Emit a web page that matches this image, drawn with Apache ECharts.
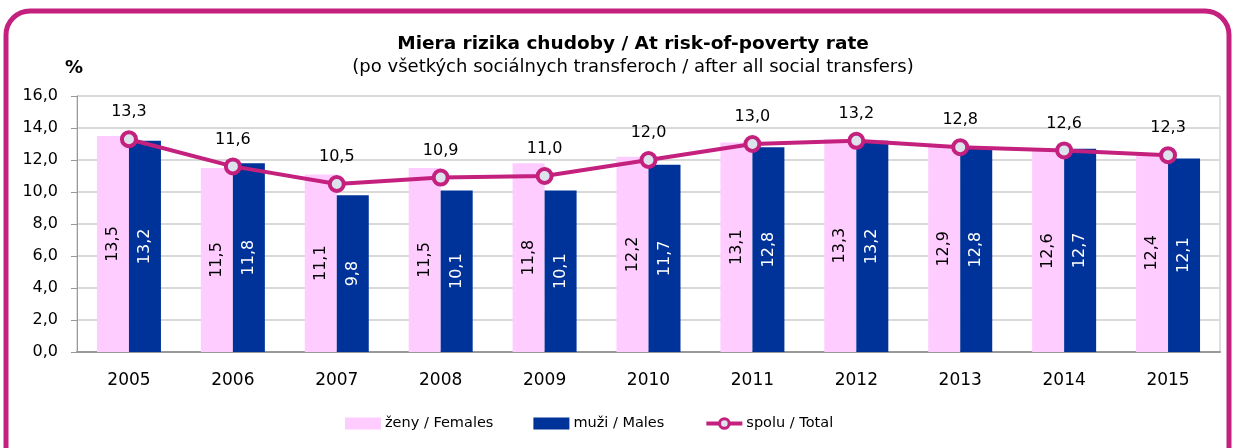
<!DOCTYPE html>
<html>
<head>
<meta charset="utf-8">
<script src="https://cdn.jsdelivr.net/npm/echarts@6/dist/echarts.min.js"></script>
<style>
  html, body { margin: 0; padding: 0; background: #fff; }
  #chart { width: 1233px; height: 448px; }
</style>
</head>
<body>
<div id="chart"></div>
<script>
// data
var years = ['2005', '2006', '2007', '2008', '2009', '2010', '2011', '2012', '2013', '2014', '2015'];
var females = [13.5, 11.5, 11.1, 11.5, 11.8, 12.2, 13.1, 13.3, 12.9, 12.6, 12.4];
var males = [13.2, 11.8, 9.8, 10.1, 10.1, 11.7, 12.8, 13.2, 12.8, 12.7, 12.1];
var total = [13.3, 11.6, 10.5, 10.9, 11.0, 12.0, 13.0, 13.2, 12.8, 12.6, 12.3];

var font = 'DejaVu Sans, sans-serif';
function comma(v) { return v.toFixed(1).replace('.', ','); }

(function() {
	var myChart = echarts.init(document.querySelector('#chart'));
	var option = {
		backgroundColor: '#fff',
		textStyle: { fontFamily: font },
		title: {
			text: 'Miera rizika chudoby / At risk-of-poverty rate',
			subtext: '(po všetkých sociálnych transferoch / after all social transfers)',
			left: 628, textAlign: 'center', top: 30, itemGap: 4,
			textStyle: { fontFamily: font, fontSize: 18.5, fontWeight: 'bold', color: '#000' },
			subtextStyle: { fontFamily: font, fontSize: 18, color: '#000' }
		},
		graphic: [
			{
				type: 'rect',
				shape: { x: 6, y: 11, width: 1223, height: 460, r: 24 },
				style: { fill: 'none', stroke: '#C4207E', lineWidth: 5 }
			},
			{
				type: 'text', left: 65, top: 59,
				style: { text: '%', font: 'bold 18px ' + font, fill: '#000' }
			},
			{
				type: 'rect',
				shape: { x: 77, y: 96, width: 1143, height: 256 },
				style: { fill: 'none', stroke: '#bfbfbf', lineWidth: 1 },
				z: 0
			}
		],
		legend: {
			bottom: 12, left: 340, itemGap: 40, itemWidth: 36, itemHeight: 12,
			textStyle: { fontFamily: font, fontSize: 14.5, color: '#000', padding: [0, 0, 0, -1] },
			data: [
				{ name: 'ženy / Females', icon: 'rect' },
				{ name: 'muži / Males', icon: 'rect' },
				{ name: 'spolu / Total', lineStyle: { width: 4 }, itemStyle: { borderWidth: 3 } }
			]
		},
		grid: { left: 77, right: 13, top: 96, bottom: 96 },
		xAxis: {
			type: 'category',
			data: years,
			axisTick: { show: false },
			axisLine: { lineStyle: { color: '#999', width: 2 } },
			axisLabel: { fontSize: 17, color: '#000', margin: 20, fontFamily: font }
		},
		yAxis: {
			type: 'value', min: 0, max: 16, interval: 2,
			axisLine: { show: true, lineStyle: { color: '#999' } },
			axisTick: { show: true, length: 6, lineStyle: { color: '#999' } },
			splitLine: { lineStyle: { color: '#d9d9d9', width: 2 } },
			axisLabel: { fontSize: 16, color: '#000', margin: 19, fontFamily: font, formatter: comma }
		},
		series: [
			{
				name: 'ženy / Females', type: 'bar', data: females,
				barWidth: 32, barGap: '0%',
				itemStyle: { color: '#FFCCFF' },
				label: {
					show: true, position: 'inside', rotate: 90, fontSize: 16, color: '#000',
					fontFamily: font, formatter: function(p) { return comma(p.value); }
				}
			},
			{
				name: 'muži / Males', type: 'bar', data: males,
				barWidth: 32,
				itemStyle: { color: '#003399' },
				label: {
					show: true, position: 'inside', rotate: 90, fontSize: 16, color: '#fff',
					fontFamily: font, formatter: function(p) { return comma(p.value); }
				}
			},
			{
				name: 'spolu / Total', type: 'line', data: total,
				symbol: 'circle', symbolSize: 14,
				lineStyle: { color: '#C4207E', width: 4 },
				itemStyle: { color: '#DCE3EC', borderColor: '#C4207E', borderWidth: 4 },
				label: {
					show: true, position: 'top', distance: 10, fontSize: 16, color: '#000',
					fontFamily: font, formatter: function(p) { return comma(p.value); }
				},
				z: 5
			}
		]
	};
	myChart.setOption(option);
})();
</script>
</body>
</html>
